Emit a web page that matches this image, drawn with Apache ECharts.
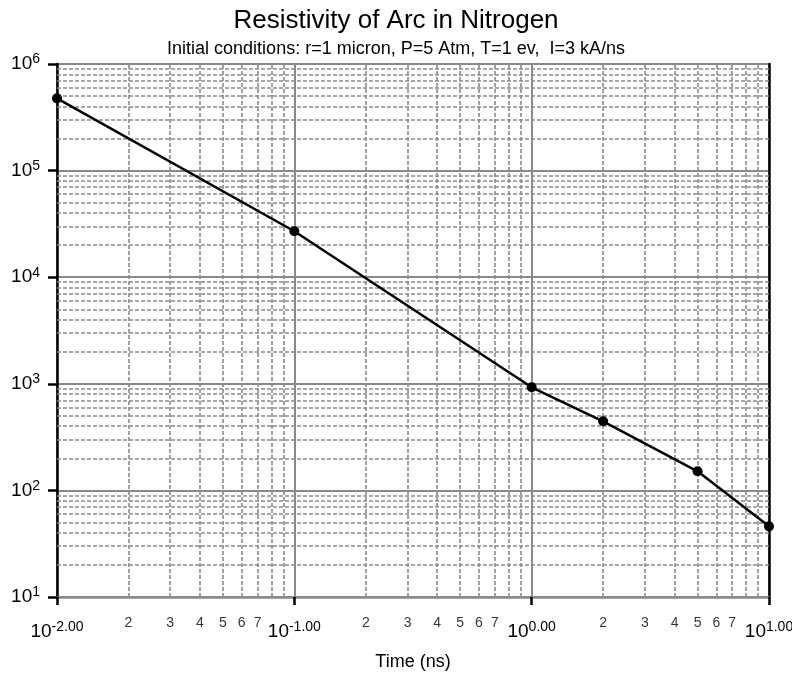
<!DOCTYPE html>
<html>
<head>
<meta charset="utf-8">
<script src="https://cdn.jsdelivr.net/npm/echarts@6/dist/echarts.min.js"></script>
<style>
  html, body { margin: 0; padding: 0; background: #fff; }
  #chart { width: 792px; height: 673px; }
</style>
</head>
<body>
<div id="chart"></div>
<script>
// Arc resistivity vs. time (log-log)
const timeNs = [0.01, 0.1, 1, 2, 5, 10];
const resistivity = [476000, 27000, 927, 445, 151, 46];

// Decade starts used to build the minor grid (2..9 within each decade)
const xDecadeStarts = [0.01, 0.1, 1];
const yDecadeStarts = [10, 100, 1000, 10000, 100000];
const minorMultipliers = [2, 3, 4, 5, 6, 7, 8, 9];
const labelledMultipliers = [2, 3, 4, 5, 6, 7];

const FONT = 'Liberation Sans, Arial, sans-serif';
const GRID_GRAY = '#8a8a8a';

const xMinorValues = [];
xDecadeStarts.forEach(d => minorMultipliers.forEach(m => xMinorValues.push(+(d * m).toPrecision(3))));
const yMinorValues = [];
yDecadeStarts.forEach(d => minorMultipliers.forEach(m => yMinorValues.push(+(d * m).toPrecision(3))));
const xMinorLabelled = [];
xDecadeStarts.forEach(d => labelledMultipliers.forEach(m => xMinorLabelled.push({ v: +(d * m).toPrecision(3), m })));

const chart = echarts.init(document.getElementById('chart'), null, { renderer: 'canvas' });

const superRich = {
  b: { fontSize: 19, fontFamily: FONT, color: '#000', lineHeight: 24 },
  s: { fontSize: 14, fontFamily: FONT, color: '#000', lineHeight: 24, padding: [0, 0, 9, 0] }
};

const minorLine = { color: GRID_GRAY, width: 1.6, type: [4, 2] };

chart.setOption({
  animation: false,
  backgroundColor: '#fff',
  title: [
    {
      text: 'Resistivity of Arc in Nitrogen',
      left: 'center', top: 3,
      textStyle: { fontFamily: FONT, fontSize: 26, fontWeight: 'normal', color: '#000' }
    },
    {
      text: 'Initial conditions: r=1 micron, P=5 Atm, T=1 ev,  I=3 kA/ns',
      left: 'center', top: 35,
      textStyle: { fontFamily: FONT, fontSize: 18, fontWeight: 'normal', color: '#000' }
    }
  ],
  grid: { left: 57, right: 23, top: 64, bottom: 76, containLabel: false, outerBoundsMode: 'none' },
  xAxis: {
    type: 'log', logBase: 10, min: 0.01, max: 10,
    name: 'Time (ns)', nameLocation: 'middle', nameGap: 56,
    nameTextStyle: { fontFamily: FONT, fontSize: 18, color: '#000' },
    axisLine: { show: true, lineStyle: { color: GRID_GRAY, width: 2.5 } },
    axisTick: { show: true, inside: false, length: 8, lineStyle: { color: '#000', width: 2.5 } },
    axisLabel: {
      margin: 23,
      formatter: v => '{b|10}{s|' + Math.round(Math.log10(v)).toFixed(2) + '}',
      rich: superRich
    },
    splitLine: { show: true, lineStyle: { color: GRID_GRAY, width: 2 } }
  },
  yAxis: [
    {
      type: 'log', logBase: 10, min: 10, max: 1000000,
      axisLine: { show: true, lineStyle: { color: '#000', width: 2.5 } },
      axisTick: { show: true, inside: false, length: 9, lineStyle: { color: '#000', width: 2.5 } },
      axisLabel: {
        margin: 17,
        formatter: v => '{b|10}{s|' + Math.round(Math.log10(v)) + '}',
        rich: superRich
      },
      splitLine: { show: true, lineStyle: { color: GRID_GRAY, width: 2 } }
    },
    {
      type: 'log', logBase: 10, min: 10, max: 1000000, position: 'right',
      axisLine: { show: true, lineStyle: { color: '#000', width: 2.5 } },
      axisTick: { show: false }, axisLabel: { show: false }, splitLine: { show: false }
    }
  ],
  series: [
    {
      // minor grid lines drawn as mark lines on an empty series
      type: 'line', data: [], silent: true,
      markLine: {
        silent: true, symbol: 'none', animation: false,
        label: { show: false },
        lineStyle: minorLine,
        data: xMinorValues.map(v => ({ xAxis: v })).concat(yMinorValues.map(v => ({ yAxis: v })))
      }
    },
    {
      // minor tick numbers under the x axis
      type: 'scatter', silent: true, clip: false, symbolSize: 0,
      data: xMinorLabelled.map(o => ({ value: [o.v, 10], m: o.m })),
      label: {
        show: true, position: 'bottom', distance: 19,
        formatter: p => String(p.data.m),
        fontFamily: FONT, fontSize: 14, color: '#000'
      }
    },
    {
      type: 'line', data: timeNs.map((t, i) => [t, resistivity[i]]),
      symbol: 'circle', symbolSize: 10, clip: false,
      lineStyle: { color: '#000', width: 2.5 },
      itemStyle: { color: '#000' },
      z: 5
    }
  ]
});
</script>
</body>
</html>
